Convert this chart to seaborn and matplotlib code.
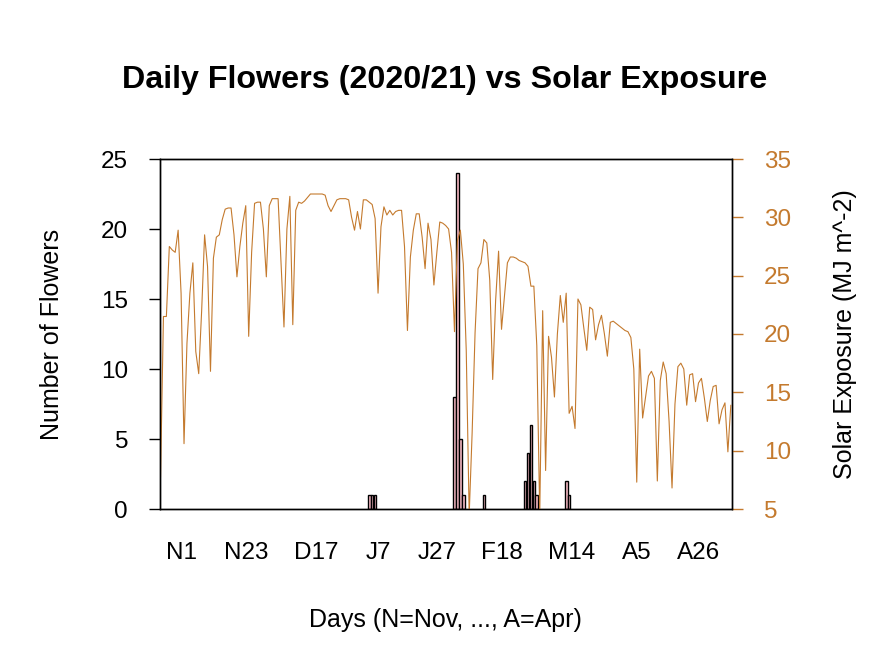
import numpy as np
import pandas as pd
import seaborn as sns
import matplotlib.pyplot as plt

# daily series starts on this date
start_date = "2020-10-25"

# solar exposure (MJ m^-2), one value per day
solar_exposure = [
    7.7, 21.5, 21.5, 27.5, 27.2, 27.0, 28.9, 23.5, 10.6, 19.2,
    23.5, 26.1, 18.5, 16.6, 22.0, 28.5, 25.8, 16.8, 26.5, 28.3,
    28.5, 29.8, 30.7, 30.8, 30.8, 28.5, 24.9, 27.5, 29.5, 31.0,
    19.8, 27.0, 31.2, 31.3, 31.3, 29.0, 24.9, 31.0, 31.6, 31.6,
    31.6, 26.0, 20.6, 29.0, 31.8, 20.8, 30.6, 31.3, 31.2, 31.4,
    31.7, 32.0, 32.0, 32.0, 32.0, 32.0, 31.9, 31.0, 30.5, 31.0,
    31.5, 31.6, 31.6, 31.6, 31.5, 30.0, 28.9, 30.5, 29.0, 31.5,
    31.5, 31.3, 31.1, 29.9, 23.5, 29.2, 30.9, 30.2, 30.6, 30.2,
    30.5, 30.6, 30.6, 27.5, 20.3, 26.6, 28.9, 30.3, 30.3, 28.3,
    25.6, 29.5, 28.1, 24.2, 27.0, 29.6, 29.5, 29.3, 29.0, 27.0,
    20.2, 28.0, 28.9, 26.0, 18.6, 4.5, 11.5, 20.1, 25.6, 26.1,
    28.1, 27.8, 24.6, 16.1, 22.9, 27.1, 20.4, 23.2, 26.1, 26.6,
    26.6, 26.5, 26.3, 26.2, 26.1, 25.8, 24.1, 24.1, 19.0, 4.5,
    22.0, 8.3, 19.8, 18.0, 14.6, 20.0, 23.3, 21.0, 23.5, 13.2,
    13.8, 11.9, 23.0, 22.5, 20.5, 18.6, 22.3, 22.1, 19.5, 20.8,
    21.6, 20.0, 18.1, 21.0, 21.1, 20.9, 20.7, 20.5, 20.3, 20.2,
    19.7, 17.0, 7.3, 18.7, 12.8, 14.6, 16.4, 16.8, 16.2, 7.4,
    16.0, 17.6, 16.6, 12.5, 6.8, 14.0, 17.2, 17.5, 17.0, 13.9,
    16.5, 16.6, 14.2, 15.8, 16.2, 14.5, 12.5, 14.3, 15.5, 15.6,
    12.3, 13.5, 14.1, 9.9, 13.9,
]

# days with flowers (all other days are zero)
flower_dates = ["2021-01-04", "2021-01-05", "2021-01-06",
                "2021-02-02", "2021-02-03", "2021-02-04", "2021-02-05",
                "2021-02-12",
                "2021-02-26", "2021-02-27", "2021-02-28", "2021-03-01", "2021-03-02",
                "2021-03-12", "2021-03-13"]
flower_counts = [1, 1, 1,
                 8, 24, 5, 1,
                 1,
                 2, 4, 6, 2, 1,
                 2, 1]

tick_dates = ["2020-11-01", "2020-11-23", "2020-12-17", "2021-01-07", "2021-01-27",
              "2021-02-18", "2021-03-14", "2021-04-05", "2021-04-26"]
tick_labels = ["N1", "N23", "D17", "J7", "J27", "F18", "M14", "A5", "A26"]

solar_color = "#C47A2E"

sns.set_style("white")
plt.rcParams["font.family"] = ["Liberation Sans", "DejaVu Sans"]
plt.rcParams["text.color"] = "black"
plt.rcParams["axes.labelcolor"] = "black"
plt.rcParams["xtick.color"] = "black"
plt.rcParams["ytick.color"] = "black"

t0 = pd.Timestamp(start_date)
day_idx = np.arange(len(solar_exposure))
flower_x = (pd.to_datetime(flower_dates) - t0).days.values
tick_x = (pd.to_datetime(tick_dates) - t0).days.values

W, H = 891, 668
fig = plt.figure(figsize=(W / 100, H / 100), dpi=100)
ax = fig.add_axes([160 / W, 1 - 509 / H, 572 / W, 350 / H])

sns.barplot(x=flower_x, y=flower_counts, native_scale=True, width=0.9,
            color="pink", saturation=1, edgecolor="black", linewidth=1, ax=ax)

ax2 = ax.twinx()
sns.lineplot(x=day_idx, y=solar_exposure, color=solar_color, linewidth=0.8, ax=ax2)

ax.set_xlim(-0.17, 194.4)
ax.set_ylim(0, 25)
ax2.set_ylim(5, 35)
ax.set_yticks(range(0, 26, 5))
ax2.set_yticks(range(5, 36, 5))
ax.set_xticks(tick_x)
ax.set_xticklabels(tick_labels)

ax.set_xlabel("")
ax.set_ylabel("")
ax2.set_ylabel("")

for a in (ax, ax2):
    for s in a.spines.values():
        s.set_visible(True)
        s.set_color("black")
        s.set_linewidth(1)

ax.tick_params(axis="x", length=0, pad=24, labelsize=17.5, labelcolor="black")
ax.tick_params(axis="y", left=True, length=8, width=1, pad=15, labelsize=17.5,
               color="black", labelcolor="black")
ax2.tick_params(axis="y", right=True, length=8, width=1, pad=15, labelsize=17.5,
                color=solar_color, labelcolor=solar_color)

fig.text(445 / W, 1 - 80 / H, "Daily Flowers (2020/21) vs Solar Exposure",
         ha="center", va="center", fontsize=23.2, fontweight="bold", color="black")
fig.text(52 / W, 1 - 334 / H, "Number of Flowers", rotation=90,
         ha="center", va="center", fontsize=18, color="black")
fig.text(845 / W, 1 - 334 / H, "Solar Exposure (MJ m^-2)", rotation=90,
         ha="center", va="center", fontsize=18, color="black")
fig.text(445 / W, 1 - 620 / H, "Days (N=Nov, ..., A=Apr)",
         ha="center", va="center", fontsize=18, color="black")

fig.savefig("out.png", dpi=100, facecolor="white")
